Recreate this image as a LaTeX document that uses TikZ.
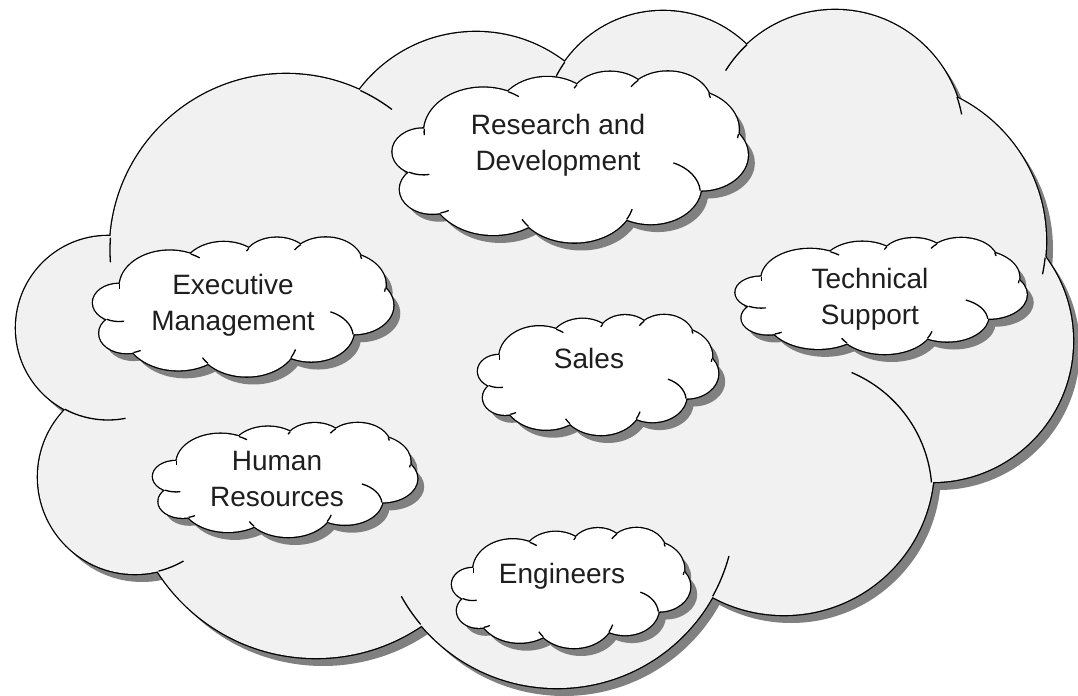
\documentclass[tikz,border=0pt]{standalone}
\usepackage{fontspec}
\setmainfont{Liberation Sans}
\usepackage{tikz}

\definecolor{cloudgray}{RGB}{241,241,241}
\definecolor{shadowgray}{RGB}{128,128,128}
\definecolor{labelgray}{RGB}{30,30,30}

% lobes of the cloud: centre x / centre y / radius (pixels, box 1056 x 678 round (544,349))
\newcommand{\cloudlobes}{286/250/176, 476/178/146, 663/131/120, 835/139/129,
  886/241/160, 932/341/141, 784/465/150, 557/510/178, 316/470/188,
  135/477/97, 108/328/92}
% inner hooks: centre x / centre y / radius / from / to
\newcommand{\cloudhooks}{286/250/176/184/176, 286/250/176/295/307,
  663/131/120/215/207, 835/139/129/227/212, 835/139/129/341/349,
  886/241/160/6/12, 800/494/132/355/293, 557/510/178/29/15,
  557/510/178/140/151, 135/477/97/76/60, 108/328/92/118/79}

\tikzset{
  pics/puffcloud/.style n args={3}{code={
    % shadow
    \begin{scope}[shift={(7,8)}, xscale=#1/1056, yscale=#2/678, shift={(-544,-349)}]
      \foreach \cx/\cy/\r in \cloudlobes
        \fill[shadowgray] (\cx,\cy) circle[radius=\r];
      \fill[shadowgray] (286,250) -- (476,178) -- (663,131) -- (835,139) -- (886,241) -- (932,341)
        -- (784,465) -- (557,510) -- (316,470) -- (135,477) -- (108,328) -- cycle;
    \end{scope}
    % outline, body and hooks
    \begin{scope}[xscale=#1/1056, yscale=#2/678, shift={(-544,-349)}]
      \foreach \cx/\cy/\r in \cloudlobes
        \draw[line width=1.3pt] (\cx,\cy) circle[radius=\r];
      \foreach \cx/\cy/\r in \cloudlobes
        \fill[#3] (\cx,\cy) circle[radius=\r];
      \fill[#3] (286,250) -- (476,178) -- (663,131) -- (835,139) -- (886,241) -- (932,341)
        -- (784,465) -- (557,510) -- (316,470) -- (135,477) -- (108,328) -- cycle;
      \foreach \cx/\cy/\r/\a/\b in \cloudhooks
        \draw[line width=0.65pt] ([shift={(\a:\r)}]\cx,\cy) arc[start angle=\a, end angle=\b, radius=\r];
    \end{scope}
  }},
  dept/.style={align=center, inner sep=0pt, text=labelgray,
    font=\fontsize{14}{17.8}\selectfont}
}

\begin{document}
\begin{tikzpicture}[x=0.5pt, y=-0.5pt]
\useasboundingbox (0,0) rectangle (1078,696);

\pic (company) at (544,349) {puffcloud={1056}{678}{cloudgray}};

\pic (rdcloud) at (570,157) {puffcloud={355}{171}{white}};
\node[dept] (rd) at (558,145) {Research and\\Development};

\pic (execcloud) at (243,307) {puffcloud={300}{139}{white}};
\node[dept] (exec) at (233,305) {Executive\\Management};

\pic (techcloud) at (881,296) {puffcloud={291}{116}{white}};
\node[dept] (tech) at (870,299) {Technical\\Support};

\pic (salescloud) at (598,375) {puffcloud={240}{120}{white}};
\node[dept] (sales) at (589,358) {Sales};

\pic (hrcloud) at (285,480) {puffcloud={264}{114}{white}};
\node[dept] (hr) at (277,479) {Human\\Resources};

\pic (engcloud) at (571,588) {puffcloud={238}{120}{white}};
\node[dept] (eng) at (562,576) {Engineers};

\end{tikzpicture}
\end{document}
